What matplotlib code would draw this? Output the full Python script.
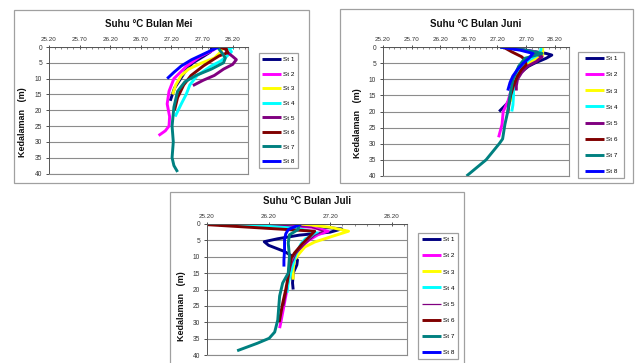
import numpy as np
import matplotlib.pyplot as plt
from matplotlib.patches import Rectangle
from matplotlib.ticker import MultipleLocator, FormatStrFormatter

plt.rcParams['font.family'] = ['Liberation Sans', 'DejaVu Sans']

stations = ['St 1', 'St 2', 'St 3', 'St 4', 'St 5', 'St 6', 'St 7', 'St 8']
colors = ['#000080', '#FF00FF', '#FFFF00', '#00FFFF', '#800080', '#800000', '#008080', '#0000FF']
depth_ticks = [0, 5, 10, 15, 20, 25, 30, 35, 40]

# Mei
mei_depth = [
    [0, 1.5, 3, 5, 7, 10, 13, 17],
    [0, 1, 3, 6, 10, 14, 18, 22, 25, 26.5, 28],
    [0, 1, 2, 3.5, 5, 7, 9, 12, 15],
    [0, 0.5, 1.5, 3, 4.5, 6, 9, 12, 15, 18, 22],
    [0, 1.5, 3, 4, 5.5, 7, 9, 10.5, 12.2],
    [0, 0.8, 1.8, 2.8, 4, 6, 9, 12, 16, 20],
    [0, 2, 3.5, 5, 7, 9, 11, 14, 19, 25, 30, 35, 37.5, 39.5],
    [0, 1, 2, 4, 6, 8, 10],
]
mei_temp = [
    [27.86, 27.84, 27.72, 27.55, 27.45, 27.35, 27.25, 27.18],
    [27.95, 27.88, 27.67, 27.45, 27.24, 27.16, 27.13, 27.17, 27.16, 27.10, 26.99],
    [28.02, 28.02, 27.98, 27.90, 27.70, 27.48, 27.36, 27.27, 27.22],
    [28.21, 28.14, 28.18, 28.10, 28.00, 27.85, 27.62, 27.50, 27.44, 27.36, 27.26],
    [28.08, 28.10, 28.20, 28.26, 28.20, 28.05, 27.90, 27.72, 27.55],
    [27.98, 28.10, 28.12, 27.98, 27.88, 27.72, 27.52, 27.40, 27.30, 27.25],
    [27.95, 28.03, 28.08, 28.05, 27.85, 27.60, 27.42, 27.30, 27.24, 27.21, 27.23, 27.21, 27.24, 27.30],
    [27.97, 27.86, 27.75, 27.53, 27.36, 27.24, 27.13],
]

# Juni
juni_depth = [
    [0, 1, 2, 2.5, 3.5, 5, 6, 8, 10, 13, 15, 17.5, 20],
    [0, 1.5, 3, 5, 8, 11, 14, 17, 20, 24, 28],
    [0, 1, 2.5, 5, 8, 11, 14, 17],
    [0, 1, 2.5, 4, 6, 9, 12, 15, 18, 20],
    [0, 1.5, 3, 4.5, 6, 8, 10, 12, 13.5],
    [0, 1.5, 3, 4, 5.5, 7, 9, 12, 15, 18, 20.5],
    [0, 1, 2, 3.5, 6, 10, 15, 20, 24, 28.5, 30, 35, 40],
    [0, 1, 2, 3.5, 5, 7, 9, 11, 13.5],
]
juni_temp = [
    [27.25, 27.70, 28.05, 28.15, 28.05, 27.85, 27.74, 27.60, 27.51, 27.47, 27.45, 27.37, 27.23],
    [27.30, 27.85, 27.90, 27.70, 27.55, 27.48, 27.43, 27.38, 27.30, 27.28, 27.22],
    [27.99, 27.99, 27.99, 27.75, 27.60, 27.50, 27.47, 27.45],
    [27.96, 27.96, 27.90, 27.75, 27.62, 27.52, 27.48, 27.48, 27.47, 27.45],
    [27.40, 27.80, 27.98, 27.88, 27.72, 27.62, 27.55, 27.53, 27.53],
    [27.30, 27.45, 27.62, 27.68, 27.70, 27.62, 27.55, 27.48, 27.43, 27.40, 27.38],
    [27.25, 27.70, 27.98, 27.68, 27.57, 27.47, 27.42, 27.38, 27.33, 27.29, 27.23, 27.00, 26.66],
    [27.25, 27.60, 27.82, 27.75, 27.65, 27.55, 27.47, 27.42, 27.38],
]

# Juli
juli_depth = [
    [0, 1, 1.5, 2.5, 3.4, 4.5, 5.4, 6.5, 8.4, 10, 11, 12.5, 15, 18, 20],
    [0, 1, 2.2, 3.3, 5, 8, 12, 16, 20, 25, 30, 31.8],
    [0, 1, 2.2, 3.8, 5.5, 7, 9, 11, 14, 17],
    [0, 1, 2.8, 4.5, 6, 9, 12, 15, 18, 21],
    [0, 1, 2.2, 3.5, 6, 9, 12, 16, 20, 25],
    [0.2, 2.2, 3.8, 6, 8.9, 10.4, 13, 16, 20, 24.2, 29.3, 30],
    [0, 1.7, 3.3, 5.8, 9.9, 15, 18, 22, 29.3, 33, 34.9, 36.4, 38.7],
    [0, 1.7, 3, 4.8, 8, 11, 13],
]
juli_temp = [
    [26.70, 27.10, 27.39, 27.20, 26.70, 26.35, 26.13, 26.20, 26.46, 26.60, 26.67, 26.66, 26.60, 26.59, 26.60],
    [26.10, 26.90, 27.17, 27.00, 26.85, 26.68, 26.58, 26.52, 26.50, 26.45, 26.40, 26.38],
    [26.73, 27.20, 27.50, 27.23, 26.95, 26.79, 26.70, 26.62, 26.60, 26.60],
    [25.58, 26.60, 27.00, 26.80, 26.73, 26.65, 26.60, 26.56, 26.52, 26.50],
    [26.13, 26.90, 27.09, 26.95, 26.80, 26.65, 26.58, 26.52, 26.50, 26.45],
    [25.20, 26.95, 26.87, 26.75, 26.62, 26.57, 26.54, 26.52, 26.48, 26.43, 26.38, 26.37],
    [26.70, 26.68, 26.54, 26.52, 26.54, 26.52, 26.43, 26.38, 26.35, 26.30, 26.21, 26.02, 25.69],
    [26.73, 26.52, 26.48, 26.46, 26.46, 26.45, 26.45],
]

W, H = 637, 363
fig = plt.figure(figsize=(W / 100, H / 100), dpi=100)
fig.patch.set_facecolor('white')


def px_rect(l, t, r, b):
    return [l / W, 1 - b / H, (r - l) / W, (b - t) / H]


def frame(l, t, r, b):
    fig.patches.append(Rectangle((l / W, 1 - b / H), (r - l) / W, (b - t) / H,
                                 transform=fig.transFigure, fill=False,
                                 edgecolor='#a0a0a0', linewidth=0.9))


def chart(box, title, depth, temp, major, minor, leg, ylab_y):
    l, t, r, b = box
    ax = fig.add_axes(px_rect(l, t, r, b))
    handles = []
    for i in range(len(stations)):
        lw = 0.9 if (title.endswith('Juli') and i == 4) else 2.1
        h, = ax.plot(temp[i], depth[i], color=colors[i], lw=lw,
                     solid_capstyle='butt', solid_joinstyle='round')
        handles.append(h)
    ax.set_xlim(25.2, 28.45)
    ax.set_ylim(40, 0)
    ax.xaxis.tick_top()
    ax.xaxis.set_major_locator(MultipleLocator(major))
    ax.xaxis.set_minor_locator(MultipleLocator(minor))
    ax.xaxis.set_major_formatter(FormatStrFormatter('%.2f'))
    ax.set_xticks(np.arange(25.2, 28.21, major))
    ax.set_yticks(depth_ticks)
    ax.tick_params(axis='x', which='major', labelsize=4.5, length=2.5, width=0.6,
                   direction='inout', pad=2, colors='#333333')
    ax.tick_params(axis='x', which='minor', length=1.2, width=0.5,
                   direction='in', colors='#555555')
    ax.tick_params(axis='y', labelsize=4.8, length=2, width=0.6, pad=3,
                   colors='#333333')
    ax.grid(axis='y', color='#8c8c8c', lw=0.8)
    ax.set_axisbelow(True)
    for s in ['top', 'left']:
        ax.spines[s].set_color('#555555')
        ax.spines[s].set_linewidth(0.7)
    for s in ['right', 'bottom']:
        ax.spines[s].set_color('#8c8c8c')
        ax.spines[s].set_linewidth(0.8)
    hpx = b - t
    ax.text(0.5, 1 + 23 / hpx, title, transform=ax.transAxes, ha='center',
            va='center', fontsize=7, fontweight='bold', color='#111111')
    ax.text(-26 / (r - l), ylab_y, 'Kedalaman   (m)', transform=ax.transAxes,
            rotation=90, ha='center', va='center', fontsize=6.5,
            fontweight='bold', color='#111111')
    ll, lt, lr, lb = leg
    frame(ll, lt, lr, lb)
    fig.legend(handles, stations, loc='center',
               bbox_to_anchor=((ll + lr) / 2 / W, 1 - (lt + lb) / 2 / H),
               frameon=False, fontsize=4.6, handlelength=3.0, handletextpad=0.3,
               labelspacing=(lb - lt - 8 * 6.4) / 7 / 6.4, borderpad=0)
    return ax


frame(14, 10, 309, 183)
frame(340, 9, 633, 183)
frame(170, 192, 464, 375)

chart((49, 47, 248, 173.5), 'Suhu °C Bulan Mei', mei_depth, mei_temp,
      0.5, 0.1, (259, 53, 298, 168), 0.41)
chart((383, 47, 569, 176), 'Suhu °C Bulan Juni', juni_depth, juni_temp,
      0.5, 0.1, (578, 52, 624, 178), 0.41)
chart((207, 224, 407, 355), 'Suhu °C Bulan Juli', juli_depth, juli_temp,
      1.0, 0.2, (418, 233, 458, 359), 0.37)

fig.savefig('out.png', dpi=100, facecolor='white')
